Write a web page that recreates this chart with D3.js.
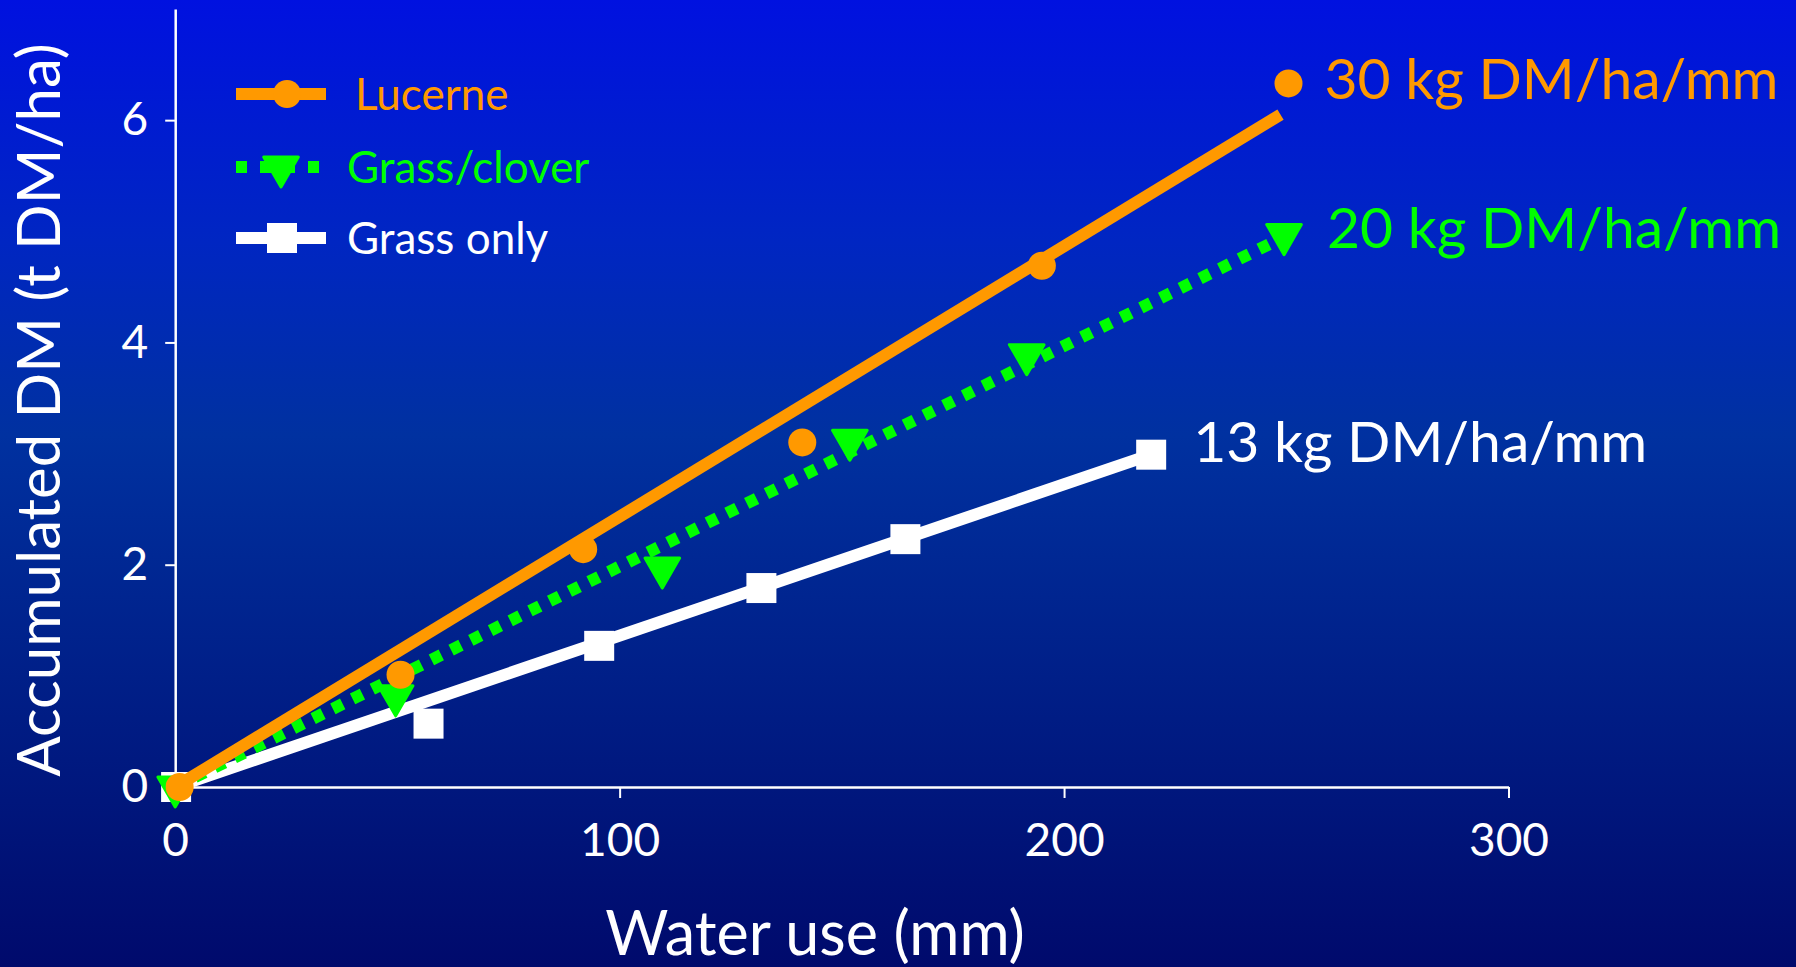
<!DOCTYPE html>
<html>
<head>
<meta charset="utf-8">
<script src="https://cdn.jsdelivr.net/npm/d3@7"></script>
<style>
  html, body { margin: 0; padding: 0; background: #001a9c; }
  svg { display: block; font-family: Lato, "Open Sans", sans-serif; }
</style>
</head>
<body>
<svg id="chart" width="1796" height="967"></svg>
<script>
// Water use (mm) vs accumulated dry matter (t DM/ha)
const lucerneWater   = [1, 50.7, 91.8, 141.1, 195, 250.5];
const lucerneDM      = [0, 1.01, 2.14, 3.10, 4.69, 6.33];
const cloverWater    = [0, 49.6, 109.6, 151.8, 191.6, 249.5];
const cloverDM       = [0, 0.82, 1.97, 3.12, 3.89, 4.97];
const grassWater     = [0.2, 57, 95.4, 131.9, 164.3, 219.6];
const grassDM        = [0, 0.57, 1.27, 1.79, 2.23, 2.99];

// Regression lines: [water use, DM] at start and end
const lucerneFit = [[0, 0], [248.7, 6.05]];
const cloverFit  = [[0, 0], [249.5, 4.95]];
const grassFit   = [[0, 0], [219.6, 2.99]];

const seriesNames = ["Lucerne", "Grass/clover", "Grass only"];
const rateLabels  = ["30 kg DM/ha/mm", "20 kg DM/ha/mm", "13 kg DM/ha/mm"];
const xTicks = [0, 100, 200, 300];
const yTicks = [0, 2, 4, 6];
const xTitle = "Water use (mm)";
const yTitle = "Accumulated DM (t DM/ha)";

const W = 1796, H = 967;
const svg = d3.select("#chart");

// Background gradient
const defs = svg.append("defs");
const grad = defs.append("linearGradient").attr("id", "bg")
  .attr("x1", 0).attr("y1", 0).attr("x2", 0).attr("y2", 1);
[[0, "#0011e0"], [0.25, "#0026c2"], [0.45, "#0031a0"], [0.7, "#001f88"], [1, "#000a6c"]]
  .forEach(([o, c]) => grad.append("stop").attr("offset", o).attr("stop-color", c));
svg.append("rect").attr("width", W).attr("height", H).attr("fill", "url(#bg)");

const x = d3.scaleLinear().domain([0, 300]).range([175.2, 1508.5]);
const y = d3.scaleLinear().domain([0, 7]).range([787, 9]);

// Axes
const xAxis = svg.append("g").attr("transform", `translate(0,${y(0)})`)
  .call(d3.axisBottom(x).tickValues(xTicks).tickFormat(d3.format("d"))
    .tickSize(11).tickSizeOuter(0).tickPadding(25));
const yAxis = svg.append("g").attr("transform", `translate(${x(0)},0)`)
  .call(d3.axisLeft(y).tickValues(yTicks).tickFormat(d3.format("d"))
    .tickSize(10).tickSizeOuter(0).tickPadding(17));
[xAxis, yAxis].forEach(g => {
  g.select(".domain").attr("stroke", "#fff").attr("stroke-width", 2.5);
  g.selectAll(".tick line").attr("stroke", "#fff").attr("stroke-width", 2);
  g.selectAll(".tick text").attr("fill", "#fff").attr("font-size", 46)
    .attr("font-family", "Lato, sans-serif");
});

svg.append("text").attr("x", 815).attr("y", 955)
  .attr("text-anchor", "middle").attr("fill", "#fff").attr("font-size", 61)
  .text(xTitle);
svg.append("text").attr("transform", "translate(60,410) rotate(-90)")
  .attr("text-anchor", "middle").attr("fill", "#fff").attr("font-size", 60)
  .text(yTitle);

const line = d3.line().x(d => x(d[0])).y(d => y(d[1]));
const zip = (a, b) => a.map((v, i) => [v, b[i]]);

const triangleDown = d3.symbol().type(d3.symbolTriangle).size(520);
const squareSym = d3.symbol().type(d3.symbolSquare).size(900);

const series = [
  { name: seriesNames[2], color: "#ffffff", fit: grassFit, pts: zip(grassWater, grassDM),
    dash: null, marker: "square", label: rateLabels[2], dx: 42, dy: 7 },
  { name: seriesNames[1], color: "#00ff00", fit: cloverFit, pts: zip(cloverWater, cloverDM),
    dash: "11,11", marker: "triangle", label: rateLabels[1], dx: 43, dy: 13 },
  { name: seriesNames[0], color: "#ff9900", fit: lucerneFit, pts: zip(lucerneWater, lucerneDM),
    dash: null, marker: "circle", label: rateLabels[0], dx: 36, dy: 16 }
];

function drawMarker(g, type, color, cx, cy) {
  if (type === "circle") {
    g.append("circle").attr("cx", cx).attr("cy", cy).attr("r", 14).attr("fill", color);
  } else if (type === "square") {
    g.append("path").attr("d", squareSym()).attr("transform", `translate(${cx},${cy})`)
      .attr("fill", color);
  } else {
    g.append("path").attr("d", triangleDown())
      .attr("transform", `translate(${cx},${cy}) rotate(180)`)
      .attr("fill", color).attr("stroke", color).attr("stroke-width", 3)
      .attr("stroke-linejoin", "round");
  }
}

const plot = svg.append("g");
series.forEach(s => {
  const g = plot.append("g");
  g.append("path").datum(s.fit).attr("d", line)
    .attr("fill", "none").attr("stroke", s.color).attr("stroke-width", 12)
    .attr("stroke-dasharray", s.dash);
  s.pts.forEach(p => drawMarker(g, s.marker, s.color, x(p[0]), y(p[1])));
  const last = s.pts[s.pts.length - 1];
  g.append("text").attr("x", x(last[0]) + s.dx).attr("y", y(last[1]) + s.dy)
    .attr("fill", s.color).attr("font-size", 57).text(s.label);
});

// Legend
const legendRows = [
  { name: seriesNames[0], color: "#ff9900", marker: "circle", dash: null, rowY: 94, tx: 355, mx: 287 },
  { name: seriesNames[1], color: "#00ff00", marker: "triangle", dash: "11,13", rowY: 167, tx: 347, mx: 281 },
  { name: seriesNames[2], color: "#ffffff", marker: "square", dash: null, rowY: 238, tx: 347, mx: 282 }
];
const legend = svg.append("g");
legendRows.forEach(r => {
  legend.append("line").attr("x1", 236).attr("x2", 326).attr("y1", r.rowY).attr("y2", r.rowY)
    .attr("stroke", r.color).attr("stroke-width", 12).attr("stroke-dasharray", r.dash);
  drawMarker(legend, r.marker, r.color, r.mx, r.rowY);
  legend.append("text").attr("x", r.tx).attr("y", r.rowY + 16)
    .attr("fill", r.color).attr("font-size", 44).text(r.name);
});
</script>
</body>
</html>
